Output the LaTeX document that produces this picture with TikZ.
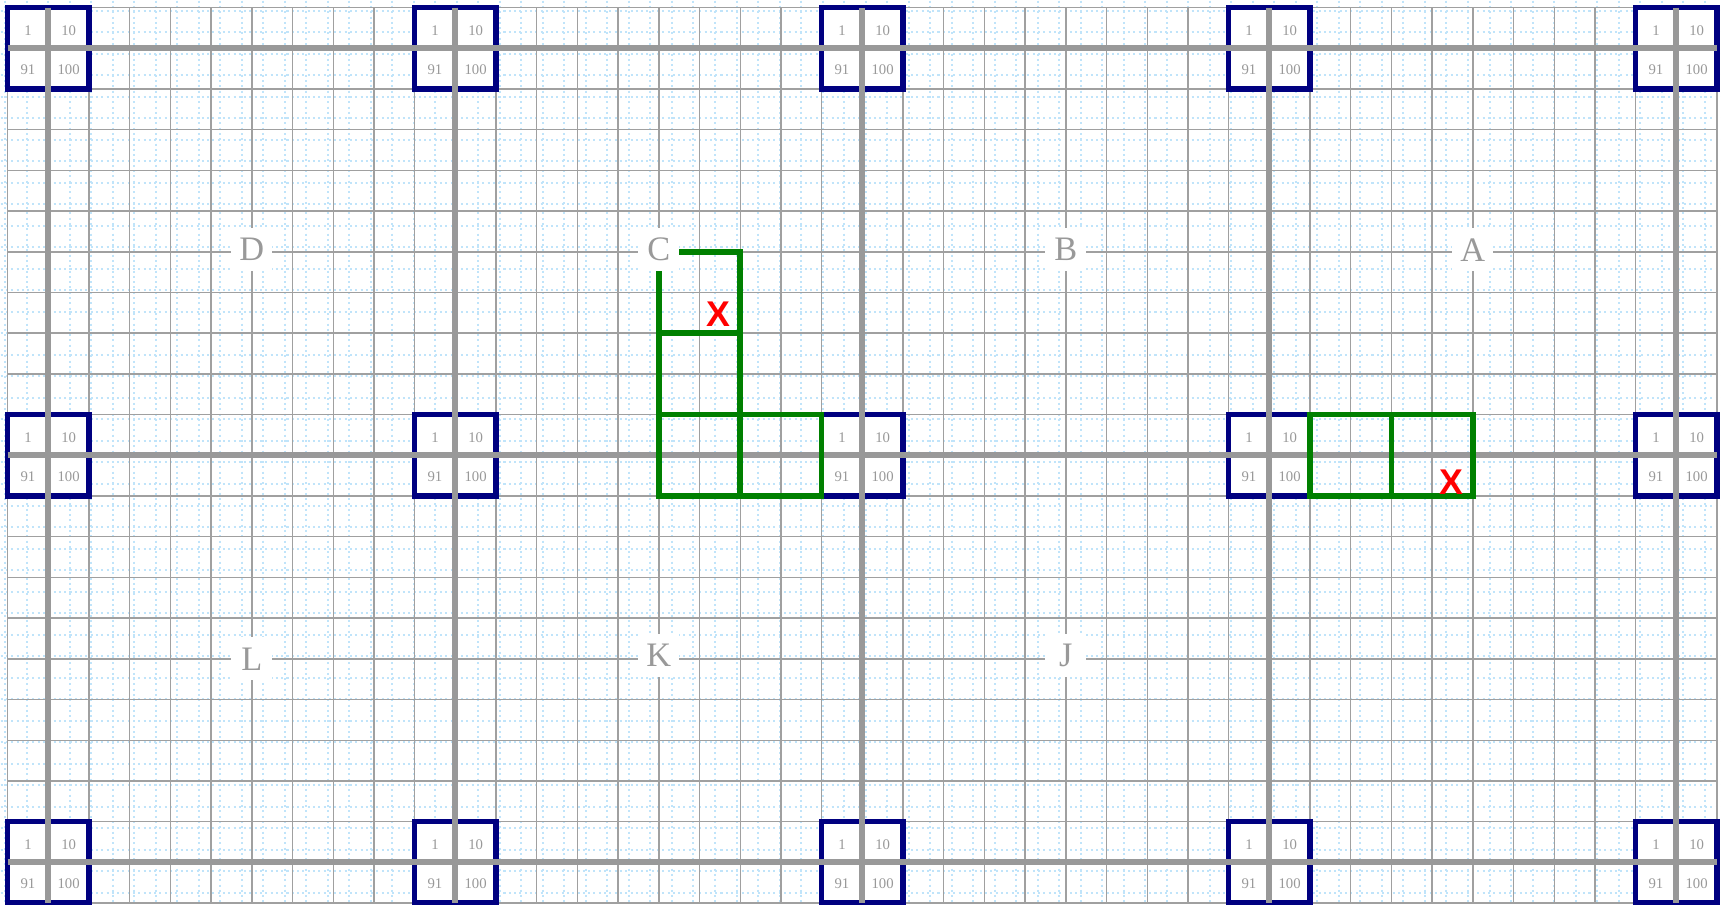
\documentclass[tikz,border=0pt]{standalone}
\usepackage{fontspec}
\setmainfont{Liberation Serif}
\newfontfamily\markfont{Liberation Sans}
\definecolor{gridgray}{RGB}{153,153,153}
\definecolor{finegray}{RGB}{160,160,160}
\definecolor{dotblue}{RGB}{192,228,250}
\definecolor{boxnavy}{RGB}{0,0,128}
\definecolor{pathgreen}{RGB}{0,128,0}
\tikzset{
  finegrid/.style={finegray, line width=1pt},
  dotgrid/.style={dotblue, line width=1.4pt, dash pattern=on 1.4pt off 2.3pt},
  mainline/.style={gridgray, line width=4.2pt},
  cornerbox/.style={boxnavy, line width=4pt, fill=white},
  cellnum/.style={text=gridgray, font=\fontsize{10.3}{12}\selectfont, inner sep=0pt},
  blocklabel/.style={fill=white, text=gridgray, font=\fontsize{24}{26}\selectfont,
    inner sep=0pt, minimum width=1cm, minimum height=1.05cm},
  pathcells/.style={pathgreen, line width=4pt},
  markx/.style={text=red, font=\markfont\bfseries\fontsize{25}{27}\selectfont, inner sep=0pt}
}
\begin{document}
\begin{tikzpicture}[x=1cm, y=-1cm]
  \clip (-0.187,-0.187) rectangle (42.098,22.025);
  \fill[white] (-0.187,-0.187) rectangle (42.098,22.025);
  \foreach \i in {-1,...,79}
    \draw[dotgrid] (0.4656+0.5286*\i,-0.3) -- (0.4656+0.5286*\i,22.2);
  \foreach \j in {-1,...,42}
    \draw[dotgrid] (-0.3,0.0756+0.5286*\j) -- (42.3,0.0756+0.5286*\j);
  \draw[finegrid] (0,0) grid (42,22);
  \foreach \cx in {1,11,21,31,41}
    \foreach \cy in {1,11,21} {
      \draw[cornerbox] (\cx-1,\cy-1) rectangle (\cx+1,\cy+1);
      \node[cellnum] (one-\cx-\cy) at (\cx-0.5,\cy-0.44) {1};
      \node[cellnum] (ten-\cx-\cy) at (\cx+0.5,\cy-0.44) {10};
      \node[cellnum] (ninetyone-\cx-\cy) at (\cx-0.5,\cy+0.53) {91};
      \node[cellnum] (hundred-\cx-\cy) at (\cx+0.5,\cy+0.53) {100};
    }
  \foreach \cy in {1,11,21}
    \draw[mainline] (0,\cy) -- (42,\cy);
  \foreach \cx in {1,11,21,31,41}
    \draw[mainline] (\cx,0) -- (\cx,22);
  \draw[pathcells] (16,6) rectangle (18,8) (16,8) rectangle (18,10)
    (16,10) rectangle (18,12) (18,10) rectangle (20,12);
  \draw[pathcells] (32,10) rectangle (34,12) (34,10) rectangle (36,12);
  \node[markx] (hitC) at (17.46,7.53) {X};
  \node[markx] (hitA) at (35.48,11.65) {X};
  \foreach \lx/\ly/\t in {6/5.95/D, 16/5.95/C, 26/5.95/B, 36/5.95/A,
                          6/16/L, 16/15.92/K, 26/15.92/J}
    \node[blocklabel] (block\t) at (\lx,\ly) {\t};
\end{tikzpicture}
\end{document}
